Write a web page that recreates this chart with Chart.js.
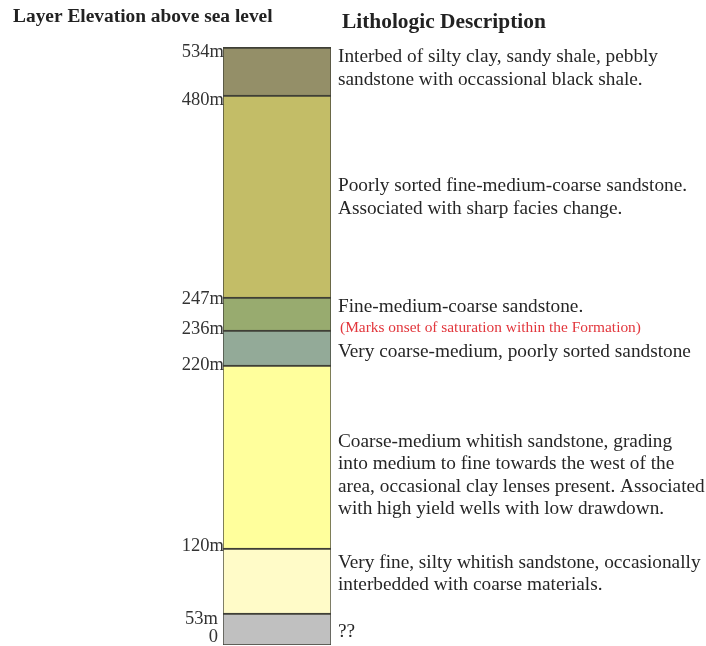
<!DOCTYPE html>
<html>
<head>
<meta charset="utf-8">
<script src="https://cdn.jsdelivr.net/npm/chart.js@4.4.1/dist/chart.umd.min.js"></script>
<style>
  html, body { margin: 0; padding: 0; background: #fff; }
  #wrap { width: 706px; height: 646px; }
</style>
</head>
<body>
<div id="wrap"><canvas id="column"></canvas></div>
<script>
// layers listed top to bottom
const elevLabels = ['534m', '480m', '247m', '236m', '220m', '120m', '53m', '0'];
// drawn thickness of each layer in the column (the log is not drawn to scale)
const layerDrawn = [48, 202, 33, 35, 183, 65, 32];
const layerColors = ['#948f68', '#c3bd67', '#98ab6f', '#93aa98', '#ffff9c', '#fffbc8', '#c0c0c0'];
const layerText = [
  ['Interbed of silty clay, sandy shale, pebbly', 'sandstone with occassional black shale.'],
  ['Poorly sorted fine-medium-coarse sandstone.', 'Associated with sharp facies change.'],
  ['Fine-medium-coarse sandstone.'],
  ['Very coarse-medium, poorly sorted sandstone'],
  ['Coarse-medium whitish sandstone, grading', 'into medium to fine towards the west of the',
   'area, occasional clay lenses present. Associated', 'with high yield wells with low drawdown.'],
  ['Very fine, silty whitish sandstone, occasionally', 'interbedded with coarse materials.'],
  ['??']
];
const saturationNote = '(Marks onset of saturation within the Formation)';

// small nudges for text placement
const textShift = [-2.5, 1.5, -6.5, 4.5, 19, -6.5, 3];
const labelNudgeY = [0, 5, 2, -1, 0, -2, 6, 0];
const labelNudgeX = [0, 0, 0, 0, 0, 0, -6, -6];

// boundaries in column units, bottom to top
const bounds = [0];
for (let i = layerDrawn.length - 1; i >= 0; i--) bounds.push(bounds[bounds.length - 1] + layerDrawn[i]);

const datasets = [];
for (let i = layerDrawn.length - 1; i >= 0; i--) {
  datasets.push({
    label: elevLabels[i + 1] + ' - ' + elevLabels[i],
    data: [layerDrawn[i]],
    backgroundColor: layerColors[i],
    borderColor: '#3f3f36',
    borderWidth: { top: 2, left: 1, right: 1, bottom: i === layerDrawn.length - 1 ? 1 : 0 },
    borderSkipped: false,
    barPercentage: 1,
    categoryPercentage: 1
  });
}

const serif = '"Liberation Serif", "Times New Roman", serif';

const logText = {
  id: 'logText',
  afterDraw(chart) {
    const ctx = chart.ctx;
    const y = chart.scales.y;
    const area = chart.chartArea;
    ctx.save();

    // headings
    ctx.fillStyle = '#222';
    ctx.textBaseline = 'middle';
    ctx.textAlign = 'left';
    ctx.font = 'bold 19.4px ' + serif;
    ctx.fillText('Layer Elevation above sea level', 13, 17);
    ctx.font = 'bold 21.4px ' + serif;
    ctx.fillText('Lithologic Description', 342, 22);

    // elevation labels at each boundary
    ctx.font = '18.5px ' + serif;
    ctx.textAlign = 'right';
    ctx.fillStyle = '#333';
    const n = elevLabels.length;
    for (let k = 0; k < n; k++) {
      let py = y.getPixelForValue(bounds[n - 1 - k]);
      py = Math.max(area.top + 5, Math.min(area.bottom - 8, py)) + labelNudgeY[k];
      ctx.fillText(elevLabels[k], area.left + 1 + labelNudgeX[k], py);
    }

    // descriptions
    ctx.textAlign = 'left';
    ctx.font = '19.3px ' + serif;
    ctx.fillStyle = '#262626';
    const lh = 22.5;
    for (let i = 0; i < layerText.length; i++) {
      const top = y.getPixelForValue(bounds[n - 1 - i]);
      const bot = y.getPixelForValue(bounds[n - 2 - i]);
      const lines = layerText[i];
      const c = (top + bot) / 2 + textShift[i];
      lines.forEach((t, j) => {
        ctx.fillText(t, area.right + 7, c + (j - (lines.length - 1) / 2) * lh);
      });
    }

    // saturation note at the 236m boundary
    ctx.fillStyle = '#e2363c';
    ctx.font = '15.4px ' + serif;
    ctx.fillText(saturationNote, area.right + 9, y.getPixelForValue(bounds[n - 4]) - 2);
    ctx.restore();
  }
};

new Chart(document.getElementById('column'), {
  type: 'bar',
  data: { labels: ['column'], datasets: datasets },
  options: {
    responsive: true,
    maintainAspectRatio: false,
    animation: false,
    layout: { padding: { left: 223, right: 375, top: 47, bottom: 1 } },
    scales: {
      x: { stacked: true, display: false },
      y: {
        stacked: true,
        display: false,
        min: 0,
        max: bounds[bounds.length - 1]
      }
    },
    plugins: {
      legend: { display: false },
      tooltip: { enabled: false }
    }
  },
  plugins: [logText]
});
</script>
</body>
</html>
